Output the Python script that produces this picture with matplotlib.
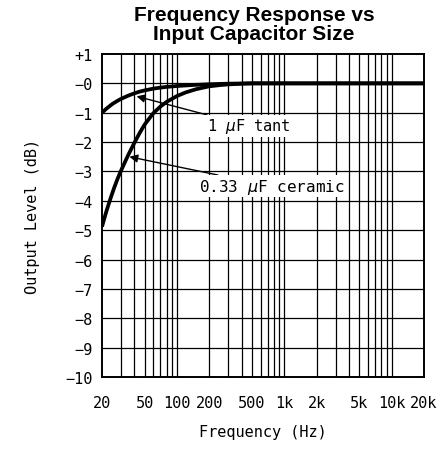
import matplotlib
matplotlib.use("Agg")
import matplotlib.pyplot as plt

# curve data (Hz, dB)
freq_tant = [20, 22, 25, 28, 30, 35, 40, 45, 50, 60, 70, 80, 100, 150, 200, 300, 500, 1000, 20000]
tant_1uF = [-1.0, -0.86, -0.7, -0.59, -0.53, -0.42, -0.34, -0.28, -0.24, -0.18, -0.145, -0.12, -0.09, -0.05, -0.03, -0.01, 0, 0, 0]
freq_cer = [20, 22, 24, 26, 28, 30, 35, 40, 45, 50, 60, 70, 80, 100, 120, 150, 200, 250, 300, 400, 500, 1000, 20000]
ceramic_033uF = [-4.88, -4.35, -3.92, -3.55, -3.24, -2.98, -2.45, -2.03, -1.68, -1.4, -1.02, -0.79, -0.63, -0.43, -0.31, -0.2, -0.1, -0.06, -0.035, -0.012, 0, 0, 0]

x_ticks = [20, 50, 100, 200, 500, 1000, 2000, 5000, 10000, 20000]
x_labels = ["20", "50", "100", "200", "500", "1k", "2k", "5k", "10k", "20k"]
y_ticks = list(range(1, -11, -1))
y_labels = ["+1"] + ["\u2212%d" % abs(v) for v in y_ticks[1:]]
grid_x = [30, 40, 50, 60, 70, 80, 90, 100, 200, 300, 400, 500, 600, 700, 800, 900, 1000,
          2000, 3000, 4000, 5000, 6000, 7000, 8000, 9000, 10000]

mono = "DejaVu Sans Mono"

fig = plt.figure(figsize=(4.41, 4.56), dpi=100)
ax = fig.add_axes([102 / 441, 1 - 378 / 456, 322 / 441, 323 / 456])

ax.set_xscale("log")
ax.set_xlim(20, 20000)
ax.set_ylim(-10, 1)

for g in grid_x:
    ax.axvline(g, color="black", lw=0.9, zorder=1)
for v in y_ticks[1:-1]:
    ax.axhline(v, color="black", lw=0.9, zorder=1)

ax.plot(freq_tant, tant_1uF, color="black", lw=2.7, zorder=3, solid_capstyle="butt")
ax.plot(freq_cer, ceramic_033uF, color="black", lw=2.7, zorder=3, solid_capstyle="butt")

ax.set_xticks(x_ticks)
ax.set_xticklabels(x_labels, fontfamily=mono, fontsize=11)
ax.xaxis.set_minor_locator(matplotlib.ticker.NullLocator())
ax.set_yticks(y_ticks)
ax.set_yticklabels(y_labels, fontfamily=mono, fontsize=11)
ax.tick_params(axis="both", length=0)
ax.tick_params(axis="x", pad=13)
ax.tick_params(axis="y", pad=7)
for s in ax.spines.values():
    s.set_linewidth(1.4)

arrow = dict(arrowstyle="-|>", color="black", lw=1.0, mutation_scale=12, shrinkA=0, shrinkB=0)
ax.annotate("1 $\\mu$F tant", xy=(42, -0.44), xytext=(190, -1.45),
            fontfamily=mono, fontsize=11, va="center", ha="left", arrowprops=arrow,
            bbox=dict(boxstyle="square,pad=0.1", fc="white", ec="none"), zorder=5)
ax.annotate("0.33 $\\mu$F ceramic", xy=(36, -2.5), xytext=(160, -3.5),
            fontfamily=mono, fontsize=11.5, va="center", ha="left", arrowprops=arrow,
            bbox=dict(boxstyle="square,pad=0.1", fc="white", ec="none"), zorder=5)

ax.set_xlabel("Frequency (Hz)", fontfamily=mono, fontsize=11, labelpad=10)
ax.set_ylabel("Output Level (dB)", fontfamily=mono, fontsize=11, labelpad=18)

fig.text(254 / 441, 1 - 25 / 456, "Frequency Response vs\nInput Capacitor Size",
         ha="center", va="center", fontfamily="Liberation Sans", fontweight="bold",
         fontsize=15, linespacing=1.0)

fig.savefig("out.png", dpi=100)
